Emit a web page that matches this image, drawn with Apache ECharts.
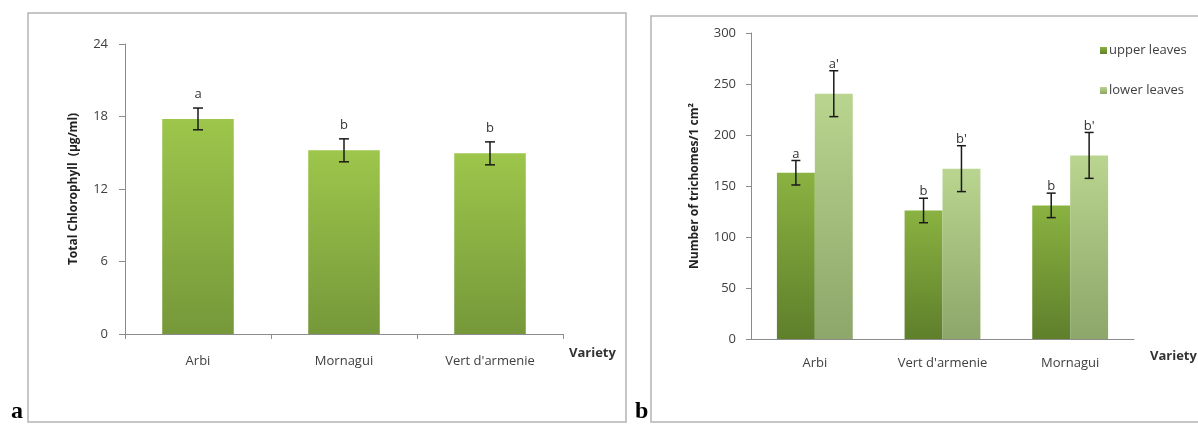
<!DOCTYPE html>
<html>
<head>
<meta charset="utf-8">
<script src="https://cdn.jsdelivr.net/npm/echarts@6/dist/echarts.min.js"></script>
<style>
html,body{margin:0;padding:0;background:#fff;}
#chart{width:1198px;height:425px;}
</style>
</head>
<body>
<div id="chart"></div>
<script>
// ---- Panel a: total chlorophyll ----
const chlCategories = ['Arbi', 'Mornagui', "Vert d'armenie"];
const chlValues = [17.8, 15.2, 14.95];
const chlErrors = [0.9, 0.95, 0.95];
const chlLetters = ['a', 'b', 'b'];

// ---- Panel b: trichomes ----
const trichCategories = ['Arbi', "Vert d'armenie", 'Mornagui'];
const upperValues = [163, 126, 131];
const upperErrors = [12, 12, 12];
const upperLetters = ['a', 'b', 'b'];
const lowerValues = [240.5, 167, 180];
const lowerErrors = [22.5, 22.5, 22.5];
const lowerLetters = ["a'", "b'", "b'"];

const FONT = '"Open Sans"';
const LABEL_COLOR = '#404040';
const AXIS_COLOR = '#8c8c8c';

const chlBarWidthPct = 0.49;
const trichBarWidthPct = 0.297;

function grad(top, bottom) {
  return new echarts.graphic.LinearGradient(0, 0, 0, 1, [
    { offset: 0, color: top }, { offset: 1, color: bottom }
  ]);
}

function errData(values, errors) {
  return values.map((v, i) => [i, v, errors[i]]);
}

const letterLookup = { errChl: chlLetters, errUpper: upperLetters, errLower: lowerLetters };

function makeErrRender(offsetFactor, capHalf, labelGap) {
  return function (params, api) {
    const cat = api.value(0), val = api.value(1), err = api.value(2);
    const letter = letterLookup[params.seriesId][params.dataIndex];
    const band = api.size([1, 0])[0];
    const dx = offsetFactor * band;
    const top = api.coord([cat, val + err]);
    const bot = api.coord([cat, val - err]);
    const x = top[0] + dx;
    const st = { stroke: '#1a1a1a', lineWidth: 1.5 };
    return {
      type: 'group',
      children: [
        { type: 'line', shape: { x1: x, y1: top[1], x2: x, y2: bot[1] }, style: st },
        { type: 'line', shape: { x1: x - capHalf, y1: top[1], x2: x + capHalf, y2: top[1] }, style: st },
        { type: 'line', shape: { x1: x - capHalf, y1: bot[1], x2: x + capHalf, y2: bot[1] }, style: st },
        { type: 'text', style: { text: letter, x: x, y: top[1] - labelGap, align: 'center', verticalAlign: 'bottom',
            font: '13px ' + FONT, fill: '#333' } }
      ]
    };
  };
}

const chart = echarts.init(document.getElementById('chart'), null, { renderer: 'canvas' });

const axisLabelY = { color: LABEL_COLOR, fontFamily: FONT, fontSize: 13 };
const nameFont = 'bold 13px ' + FONT;

const option = {
  animation: false,
  backgroundColor: '#fff',
  textStyle: { fontFamily: FONT },
  graphic: [
    { type: 'rect', shape: { x: 28, y: 13, width: 598, height: 409 }, style: { fill: 'none', stroke: '#b4b4b4', lineWidth: 1.5 } },
    { type: 'rect', shape: { x: 651, y: 16, width: 600, height: 406 }, style: { fill: 'none', stroke: '#b4b4b4', lineWidth: 1.5 } },
    { type: 'text', style: { text: 'a', x: 11, y: 424, verticalAlign: 'bottom', font: 'bold 24px "Liberation Serif"', fill: '#000' } },
    { type: 'text', style: { text: 'b', x: 635, y: 424, verticalAlign: 'bottom', font: 'bold 24px "Liberation Serif"', fill: '#000' } },
    { type: 'text', style: { text: 'Variety', x: 569, y: 353, verticalAlign: 'middle', font: nameFont, fill: '#333' } },
    { type: 'text', style: { text: 'Variety', x: 1150, y: 356, verticalAlign: 'middle', font: nameFont, fill: '#333' } }
  ],
  legend: {
    data: ['upper leaves', 'lower leaves'],
    orient: 'vertical',
    left: 1095,
    top: 39,
    itemWidth: 7,
    itemHeight: 7,
    itemGap: 27,
    icon: 'rect',
    textStyle: { color: LABEL_COLOR, fontFamily: FONT, fontSize: 13, padding: [0, 0, 0, -3] }
  },
  grid: [
    { left: 125, top: 44, width: 438, height: 290 },
    { left: 751, top: 33, width: 383, height: 306 }
  ],
  xAxis: [
    {
      gridIndex: 0, type: 'category', data: chlCategories,
      axisLine: { lineStyle: { color: AXIS_COLOR } },
      axisTick: { show: true, length: 5, lineStyle: { color: AXIS_COLOR } },
      axisLabel: { color: LABEL_COLOR, fontFamily: FONT, fontSize: 13, margin: 21 }
    },
    {
      gridIndex: 1, type: 'category', data: trichCategories,
      axisLine: { lineStyle: { color: AXIS_COLOR } },
      axisTick: { show: false },
      axisLabel: { color: LABEL_COLOR, fontFamily: FONT, fontSize: 13, margin: 18 }
    }
  ],
  yAxis: [
    {
      gridIndex: 0, type: 'value', min: 0, max: 24, interval: 6,
      axisLine: { show: true, lineStyle: { color: AXIS_COLOR } },
      axisTick: { show: true, length: 6, lineStyle: { color: AXIS_COLOR } },
      splitLine: { show: false },
      axisLabel: Object.assign({ margin: 17 }, axisLabelY),
      name: 'Total Chlorophyll  (µg/ml)', nameLocation: 'middle', nameGap: 45, nameRotate: 90,
      nameTextStyle: { fontWeight: 'bold', color: '#222', fontFamily: FONT, fontSize: 12 }
    },
    {
      gridIndex: 1, type: 'value', min: 0, max: 300, interval: 50,
      axisLine: { show: true, lineStyle: { color: AXIS_COLOR } },
      axisTick: { show: true, length: 5, lineStyle: { color: AXIS_COLOR } },
      splitLine: { show: false },
      axisLabel: Object.assign({ margin: 15 }, axisLabelY),
      name: 'Number of trichomes/1 cm²', nameLocation: 'middle', nameGap: 50, nameRotate: 90,
      nameTextStyle: { fontWeight: 'bold', color: '#222', fontFamily: FONT, fontSize: 12 }
    }
  ],
  series: [
    {
      name: 'Total Chlorophyll', type: 'bar', xAxisIndex: 0, yAxisIndex: 0,
      data: chlValues, barWidth: (chlBarWidthPct * 100) + '%',
      itemStyle: { color: grad('#9dc64b', '#76983a') }
    },
    {
      id: 'errChl', type: 'custom', xAxisIndex: 0, yAxisIndex: 0,
      data: errData(chlValues, chlErrors), encode: { x: 0, y: 1 },
      renderItem: makeErrRender(0, 5, 7), z: 10
    },
    {
      name: 'upper leaves', type: 'bar', xAxisIndex: 1, yAxisIndex: 1,
      data: upperValues, barWidth: (trichBarWidthPct * 100) + '%', barGap: '0%',
      itemStyle: { color: grad('#8ab241', '#5f7f2b') }
    },
    {
      name: 'lower leaves', type: 'bar', xAxisIndex: 1, yAxisIndex: 1,
      data: lowerValues, barWidth: (trichBarWidthPct * 100) + '%', barGap: '0%',
      itemStyle: { color: grad('#b9d58f', '#8da66a') }
    },
    {
      id: 'errUpper', type: 'custom', xAxisIndex: 1, yAxisIndex: 1,
      data: errData(upperValues, upperErrors), encode: { x: 0, y: 1 },
      renderItem: makeErrRender(-trichBarWidthPct / 2, 4.5, 0), z: 10
    },
    {
      id: 'errLower', type: 'custom', xAxisIndex: 1, yAxisIndex: 1,
      data: errData(lowerValues, lowerErrors), encode: { x: 0, y: 1 },
      renderItem: makeErrRender(trichBarWidthPct / 2, 4.5, 0), z: 10
    }
  ]
};
chart.setOption(option);
</script>
</body>
</html>
